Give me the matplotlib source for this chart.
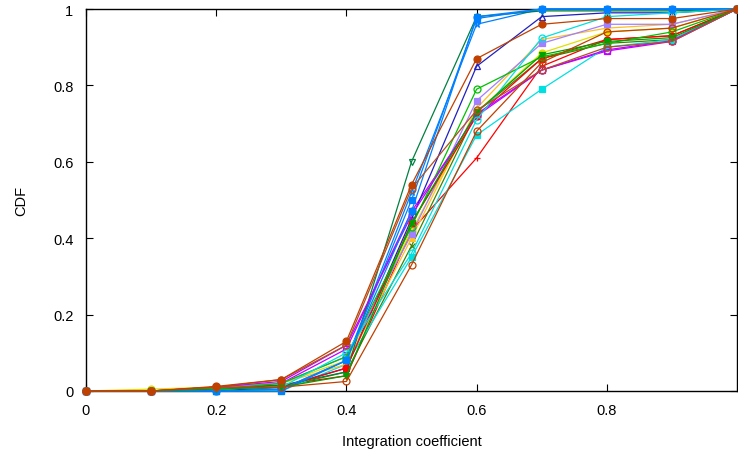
import numpy as np
import matplotlib
matplotlib.use("Agg")
import matplotlib.pyplot as plt

plt.rcParams['font.family'] = ['Liberation Sans', 'DejaVu Sans']

# x positions (integration coefficient)
x = [0.0, 0.1, 0.2, 0.3, 0.4, 0.5, 0.6, 0.7, 0.8, 0.9, 1.0]

# CDF values per series
s_red_plus = [0, 0, 0.01, 0.015, 0.04, 0.42, 0.61, 0.85, 0.92, 0.93, 1]
s_olive_x = [0, 0, 0.005, 0.01, 0.05, 0.38, 0.73, 0.87, 0.91, 0.92, 1]
s_blue_star = [0, 0, 0, 0.005, 0.08, 0.52, 0.96, 1, 1, 1, 1]
s_purple_sq = [0, 0, 0.01, 0.02, 0.11, 0.47, 0.72, 0.84, 0.89, 0.915, 1]
s_cyan_fsq = [0, 0, 0, 0, 0.07, 0.35, 0.67, 0.79, 0.90, 0.92, 1]
s_brown_circ = [0, 0, 0.01, 0.01, 0.025, 0.33, 0.68, 0.86, 0.94, 0.95, 1]
s_yellow_fc = [0, 0.005, 0.01, 0.02, 0.08, 0.42, 0.73, 0.885, 0.94, 0.95, 1]
s_navy_tri = [0, 0, 0, 0.01, 0.06, 0.45, 0.85, 0.98, 0.99, 0.99, 1]
s_gold_ftri = [0, 0, 0.01, 0.02, 0.07, 0.40, 0.74, 0.92, 0.95, 0.96, 1]
s_dgreen_tri = [0, 0, 0.005, 0.015, 0.05, 0.60, 0.98, 0.995, 0.995, 0.995, 1]
s_lav_fsq = [0, 0, 0.01, 0.02, 0.09, 0.41, 0.76, 0.91, 0.96, 0.96, 1]
s_brown_fc = [0, 0, 0.012, 0.03, 0.13, 0.54, 0.87, 0.96, 0.975, 0.975, 1]
s_red_fc = [0, 0, 0.005, 0.01, 0.06, 0.44, 0.72, 0.87, 0.92, 0.93, 1]
s_green_circ = [0, 0, 0.005, 0.02, 0.09, 0.43, 0.79, 0.875, 0.91, 0.94, 1]
s_blue_fsq = [0, 0, 0, 0, 0.08, 0.50, 0.975, 1, 1, 1, 1]
s_mag_circ = [0, 0, 0.01, 0.025, 0.12, 0.46, 0.725, 0.84, 0.893, 0.917, 1]
s_cyan_circ = [0, 0, 0.005, 0.01, 0.10, 0.36, 0.71, 0.924, 0.98, 0.99, 1]
s_blue_fc = [0, 0, 0, 0.005, 0.08, 0.47, 0.98, 1, 1, 1, 1]
s_green_ftri = [0, 0, 0.005, 0.01, 0.04, 0.44, 0.73, 0.88, 0.915, 0.925, 1]
s_sienna_circ = [0, 0, 0.01, 0.03, 0.12, 0.53, 0.735, 0.84, 0.90, 0.915, 1]

series = [
    (s_red_plus, '#ff0000', '+', False),
    (s_olive_x, '#408000', 'x', False),
    (s_blue_star, '#0080ff', '*', False),
    (s_purple_sq, '#c000ff', 's', False),
    (s_cyan_fsq, '#00e0e0', 's', True),
    (s_yellow_fc, '#e0e000', 'o', True),
    (s_navy_tri, '#2020c0', '^', False),
    (s_gold_ftri, '#ffc020', '^', True),
    (s_dgreen_tri, '#008040', 'v', False),
    (s_lav_fsq, '#a080ff', 's', True),
    (s_red_fc, '#ff0000', 'o', True),
    (s_green_circ, '#00c000', 'o', False),
    (s_blue_fsq, '#0080ff', 's', True),
    (s_mag_circ, '#c000ff', 'o', False),
    (s_cyan_circ, '#00e0e0', 'o', False),
    (s_blue_fc, '#0080ff', 'o', True),
    (s_green_ftri, '#00a000', 'v', True),
    (s_brown_circ, '#c04000', 'o', False),
    (s_sienna_circ, '#b05020', 'o', False),
    (s_brown_fc, '#c04000', 'o', True),
]

fig = plt.figure(figsize=(7.38, 4.56), dpi=100)
ax = fig.add_axes([86 / 738, 64 / 456, 651 / 738, 382 / 456])

for vals, col, mk, filled in series:
    ax.plot(x, vals, color=col, lw=0.9, marker=mk, markersize=5,
            markerfacecolor=col if filled else 'none', markeredgecolor=col,
            markeredgewidth=0.9, clip_on=False, zorder=3)

ax.set_xlim(0, 1)
ax.set_ylim(0, 1)
ax.set_xticks([0, 0.2, 0.4, 0.6, 0.8])
ax.set_xticklabels(['0', '0.2', '0.4', '0.6', '0.8'])
ax.set_yticks([0, 0.2, 0.4, 0.6, 0.8, 1.0])
ax.set_yticklabels(['0', '0.2', '0.4', '0.6', '0.8', '1'])
ax.tick_params(direction='in', top=True, right=True, length=5, width=0.8,
               labelsize=10.5, pad=9)
for sp in ax.spines.values():
    sp.set_linewidth(1.0)

ax.set_xlabel('Integration coefficient', fontsize=10.5, labelpad=12)
ax.set_ylabel('CDF', fontsize=10.5, labelpad=18)

fig.savefig('out.png', dpi=100)
